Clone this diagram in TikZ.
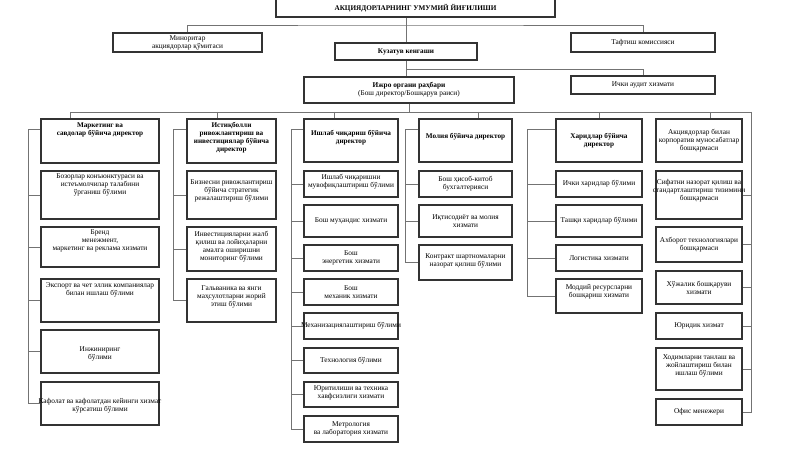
\documentclass[tikz,border=0pt]{standalone}
\usepackage{fontspec}
\setmainfont{Liberation Serif}
\newcommand\bx[7][]{%
  \pgfmathsetmacro\bxW{(#5-#3)*0.75}%
  \pgfmathsetmacro\bxH{(#6-#4)*0.75}%
  \node[box,minimum width=\bxW pt,minimum height=\bxH pt,label={[lbl,#1]center:{#7}}] (#2) at ({(#3+#5)/2},{(#4+#6)/2}) {};}
\begin{document}
\begin{tikzpicture}[x=0.75pt,y=-0.75pt,
  box/.style={draw=black!80,line width=0.8pt,fill=white,inner sep=0pt},
  lbl/.style={inner sep=0pt,align=center,font=\fontsize{5.5}{6}\selectfont},
  bf/.style={font=\fontsize{5.4}{6}\selectfont\bfseries},
  conn/.style={draw=black!55,line width=0.6pt}]
\useasboundingbox[fill=white] (0,0) rectangle (800,449);

% top level
\bx[bf]{top}{276}{-1}{555}{17}{АКЦИЯДОРЛАРНИНГ УМУМИЙ ЙИҒИЛИШИ}
\bx{lb}{113}{33}{262}{52}{Миноритар\\акциядорлар қўмитаси}
\bx[bf]{kk}{335}{43}{477}{60}{Кузатув кенгаши}
\bx{rb}{571}{33}{715}{52}{Тафтиш комиссияси}
\bx{ijro}{304}{77}{514}{103}{\textbf{Ижро органи раҳбари}\\(Бош директор/Бошқарув раиси)}
\bx{ia}{571}{76}{715}{94}{Ички аудит хизмати}

% column 1
\bx[bf,yshift=8pt]{h1}{41}{119}{159}{163}{Маркетинг ва\\савдолар бўйича директор}
\bx[yshift=7.5pt]{c1a}{41}{171}{159}{219}{Бозорлар конъюнктураси ва\\истеъмолчилар талабини\\ўрганиш бўлими}
\bx[yshift=4.5pt]{c1b}{41}{227}{159}{267}{Бренд\\менежмент,\\маркетинг ва реклама хизмати}
\bx[yshift=8pt]{c1c}{41}{279}{159}{322}{Экспорт ва чет эллик компаниялар\\билан ишлаш бўлими}
\bx[yshift=-1.5pt]{c1d}{41}{330}{159}{373}{Инжиниринг\\бўлими}
\bx[yshift=-1.5pt]{c1e}{41}{382}{159}{425}{Кафолат ва кафолатдан кейинги хизмат\\кўрсатиш бўлими}

% column 2
\bx[bf,yshift=2.5pt]{h2}{187}{119}{276}{163}{Истиқболли\\ривожлантириш ва\\инвестициялар бўйича\\директор}
\bx[yshift=3pt]{c2a}{187}{171}{276}{219}{Бизнесни ривожлантириш\\бўйича стратегик\\режалаштириш бўлими}
\bx[yshift=2pt]{c2b}{187}{227}{276}{271}{Инвестицияларни жалб\\қилиш ва лойиҳаларни\\амалга оширишни\\мониторинг бўлими}
\bx[yshift=3pt]{c2c}{187}{279}{276}{322}{Гальваника ва янги\\маҳсулотларни жорий\\этиш бўлими}

% column 3
\bx[bf,yshift=2.2pt]{h3}{304}{119}{398}{162}{Ишлаб чиқариш бўйича\\директор}
\bx[yshift=1.5pt]{c3a}{304}{171}{398}{197}{Ишлаб чиқаришни\\мувофиқлаштириш бўлими}
\bx{c3b}{304}{205}{398}{237}{Бош муҳандис хизмати}
\bx{c3c}{304}{245}{398}{271}{Бош\\энергетик хизмати}
\bx{c3d}{304}{279}{398}{305}{Бош\\механик хизмати}
\bx{c3e}{304}{313}{398}{339}{Механизациялаштириш бўлими}
\bx{c3f}{304}{348}{398}{373}{Технология бўлими}
\bx[yshift=1.5pt]{c3g}{304}{382}{398}{407}{Юритилиши ва техника\\хавфсизлиги хизмати}
\bx{c3h}{304}{416}{398}{442}{Метрология\\ва лаборатория хизмати}

% column 4
\bx[bf,yshift=2.6pt]{h4}{419}{119}{512}{162}{Молия бўйича директор}
\bx{c4a}{419}{171}{512}{197}{Бош ҳисоб-китоб\\бухгалтерияси}
\bx{c4b}{419}{205}{512}{237}{Иқтисодиёт ва молия\\хизмати}
\bx[yshift=1pt]{c4c}{419}{245}{512}{280}{Контракт шартномаларни\\назорат қилиш бўлими}

% column 5
\bx[bf]{h5}{556}{119}{642}{162}{Харидлар бўйича\\директор}
\bx{c5a}{556}{171}{642}{197}{Ички харидлар бўлими}
\bx{c5b}{556}{205}{642}{237}{Ташқи харидлар бўлими}
\bx{c5c}{556}{245}{642}{271}{Логистика хизмати}
\bx[yshift=3.5pt]{c5d}{556}{279}{642}{313}{Моддий ресурсларни\\бошқариш хизмати}

% column 6
\bx{h6}{656}{119}{742}{162}{Акциядорлар билан\\корпоратив муносабатлар\\бошқармаси}
\bx[yshift=3pt]{c6a}{656}{171}{742}{219}{Сифатни назорат қилиш ва\\стандартлаштириш тизимини\\бошқармаси}
\bx{c6b}{656}{227}{742}{262}{Ахборот технологиялари\\бошқармаси}
\bx{c6c}{656}{271}{742}{304}{Хўжалик бошқаруви\\хизмати}
\bx{c6d}{656}{313}{742}{339}{Юридик хизмат}
\bx[yshift=2.5pt]{c6e}{656}{348}{742}{390}{Ходимларни танлаш ва\\жойлаштириш билан\\ишлаш бўлими}
\bx{c6f}{656}{399}{742}{425}{Офис менежери}

% connectors: top
\coordinate (b1) at (406,25);
\coordinate (b2) at (406,69);
\draw[conn] (lb.north) |- (b1) -| (rb.north);
\draw[conn] (top.south -| kk.north) -- (kk.north);
\draw[conn] (kk.south) -- (kk.south |- ijro.north);
\draw[conn] (b2) -| (ia.north);

% bus under director
\coordinate (d1) at (70,112);
\coordinate (d2) at (217,112);
\coordinate (d3) at (334,112);
\coordinate (d4) at (478,112);
\coordinate (d5) at (599,112);
\coordinate (d6) at (710,112);
\coordinate (d6r) at (751,112);
\draw[conn] (ijro.south) -- (ijro.south |- d1);
\draw[conn] (d1) -- (d6r);
\foreach \i in {1,...,6} \draw[conn] (d\i) -- (d\i |- h\i.north);

% spines
\coordinate (s1) at (28,129);
\coordinate (s2) at (173,129);
\coordinate (s3) at (291,129);
\coordinate (s4) at (405,129);
\coordinate (s5) at (527,129);
\draw[conn] (h1.west |- s1) -- (s1) |- (c1e.west);
\foreach \n in {c1a,c1b,c1c,c1d} \draw[conn] (s1 |- \n.west) -- (\n.west);
\draw[conn] (h2.west |- s2) -- (s2) |- (c2c.west);
\foreach \n in {c2a,c2b} \draw[conn] (s2 |- \n.west) -- (\n.west);
\draw[conn] (h3.west |- s3) -- (s3) |- (c3h.west);
\foreach \n in {c3a,c3b,c3c,c3d,c3e,c3f,c3g} \draw[conn] (s3 |- \n.west) -- (\n.west);
\draw[conn] (h4.west |- s4) -- (s4) |- (c4c.west);
\foreach \n in {c4a,c4b} \draw[conn] (s4 |- \n.west) -- (\n.west);
\draw[conn] (h5.west |- s5) -- (s5) |- (c5d.west);
\foreach \n in {c5a,c5b,c5c} \draw[conn] (s5 |- \n.west) -- (\n.west);
\draw[conn] (d6r) |- (c6f.east);
\foreach \n in {c6a,c6b,c6c,c6d,c6e} \draw[conn] (d6r |- \n.east) -- (\n.east);
\end{tikzpicture}
\end{document}
